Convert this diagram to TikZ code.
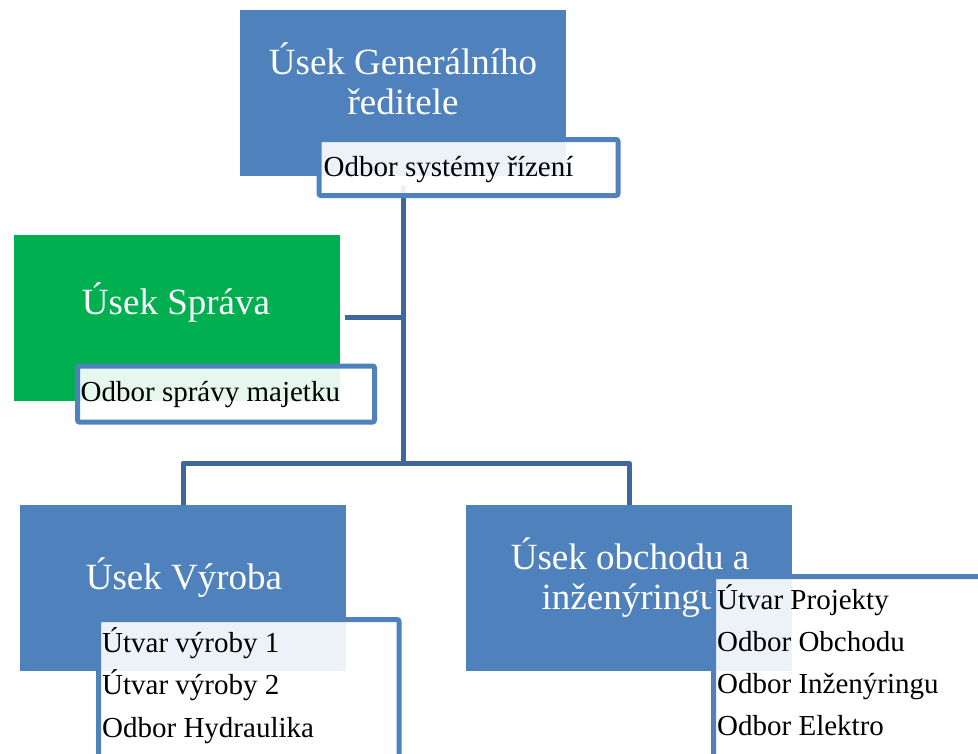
\documentclass[tikz,border=0pt]{standalone}
\usepackage{fontspec}
\setmainfont{Liberation Serif}
\usepackage{tikz}
\usetikzlibrary{positioning,backgrounds}
\definecolor{unitblue}{HTML}{4F81BD}
\definecolor{unitgreen}{HTML}{00B050}
\definecolor{linkblue}{HTML}{3F679B}

\begin{document}
\begin{tikzpicture}[x=1pt, y=-1pt,
    unitbox/.style={fill=#1, minimum width=326pt, minimum height=166pt, inner sep=0pt},
    unittext/.style={text=white, align=center, inner sep=0pt, font=\fontsize{37}{40}\selectfont},
    subbox/.style={draw=unitblue, line width=5pt, rounded corners=2pt, fill=white,
        fill opacity=0.9, text opacity=1, inner sep=0pt},
    subtext/.style={text=black, inner sep=0pt, font=\fontsize{29}{42}\selectfont},
    link/.style={draw=linkblue, line width=5pt, line join=round}]

    \useasboundingbox (0,0) rectangle (978,753);
    \clip (0,0) rectangle (978,753);

    % Top unit
    \node[unitbox=unitblue] (gen) at (402.5,93) {};
    \node[unittext] (gentext) at (403,79) {Úsek Generálního\\ředitele};
    \node[subbox, minimum width=299pt, minimum height=56pt] (gensub) at (468.5,167.5) {};
    \node[subtext, anchor=west] (gensubtext) at ([xshift=7pt, yshift=-2pt]gensub.west) {Odbor systémy řízení};

    % Side unit
    \node[unitbox=unitgreen] (spr) at (176.5,317.5) {};
    \node[unittext] (sprtext) at (176,303) {Úsek Správa};
    \node[subbox, minimum width=297pt, minimum height=56pt] (sprsub) at (226,394) {};
    \node[subtext, anchor=west] (sprsubtext) at ([xshift=5.5pt, yshift=-1pt]sprsub.west) {Odbor správy majetku};

    % Lower units
    \node[unitbox=unitblue] (vyr) at (183,588) {};
    \node[unittext] (vyrtext) at (184,578) {Úsek Výroba};
    \node[unitbox=unitblue] (obch) at (629,588) {};
    \node[unittext] (obchtext) at (630,578) {Úsek obchodu a\\inženýringu};

    \node[subbox, minimum width=300.5pt, minimum height=200pt, anchor=north west] (vyrsub) at (96,617) {};
    \foreach \t [count=\i] in {Útvar výroby 1, Útvar výroby 2, Odbor Hydraulika} {
        \node[subtext, anchor=base west] (vyritem\i) at ([xshift=6pt, yshift={-35pt-(\i-1)*42.5pt}]vyrsub.north west) {\t};
    }
    \node[subbox, minimum width=300pt, minimum height=220pt, anchor=north west] (obchsub) at (711,574) {};
    \foreach \t [count=\i] in {Útvar Projekty, Odbor Obchodu, Odbor Inženýringu, Odbor Elektro} {
        \node[subtext, anchor=base west] (obchitem\i) at ([xshift=6pt, yshift={-35pt-(\i-1)*42pt}]obchsub.north west) {\t};
    }

    % Connectors
    \begin{scope}[on background layer]
        \coordinate (hub) at (403,463);
        \draw[link] ([yshift=12pt]gensub.south -| hub) -- (hub);
        \draw[link] ([xshift=5pt]spr.east) -- (spr.east -| hub);
        \draw[link] (vyr.north) |- (hub) -| (obch.north);
    \end{scope}
\end{tikzpicture}
\end{document}
